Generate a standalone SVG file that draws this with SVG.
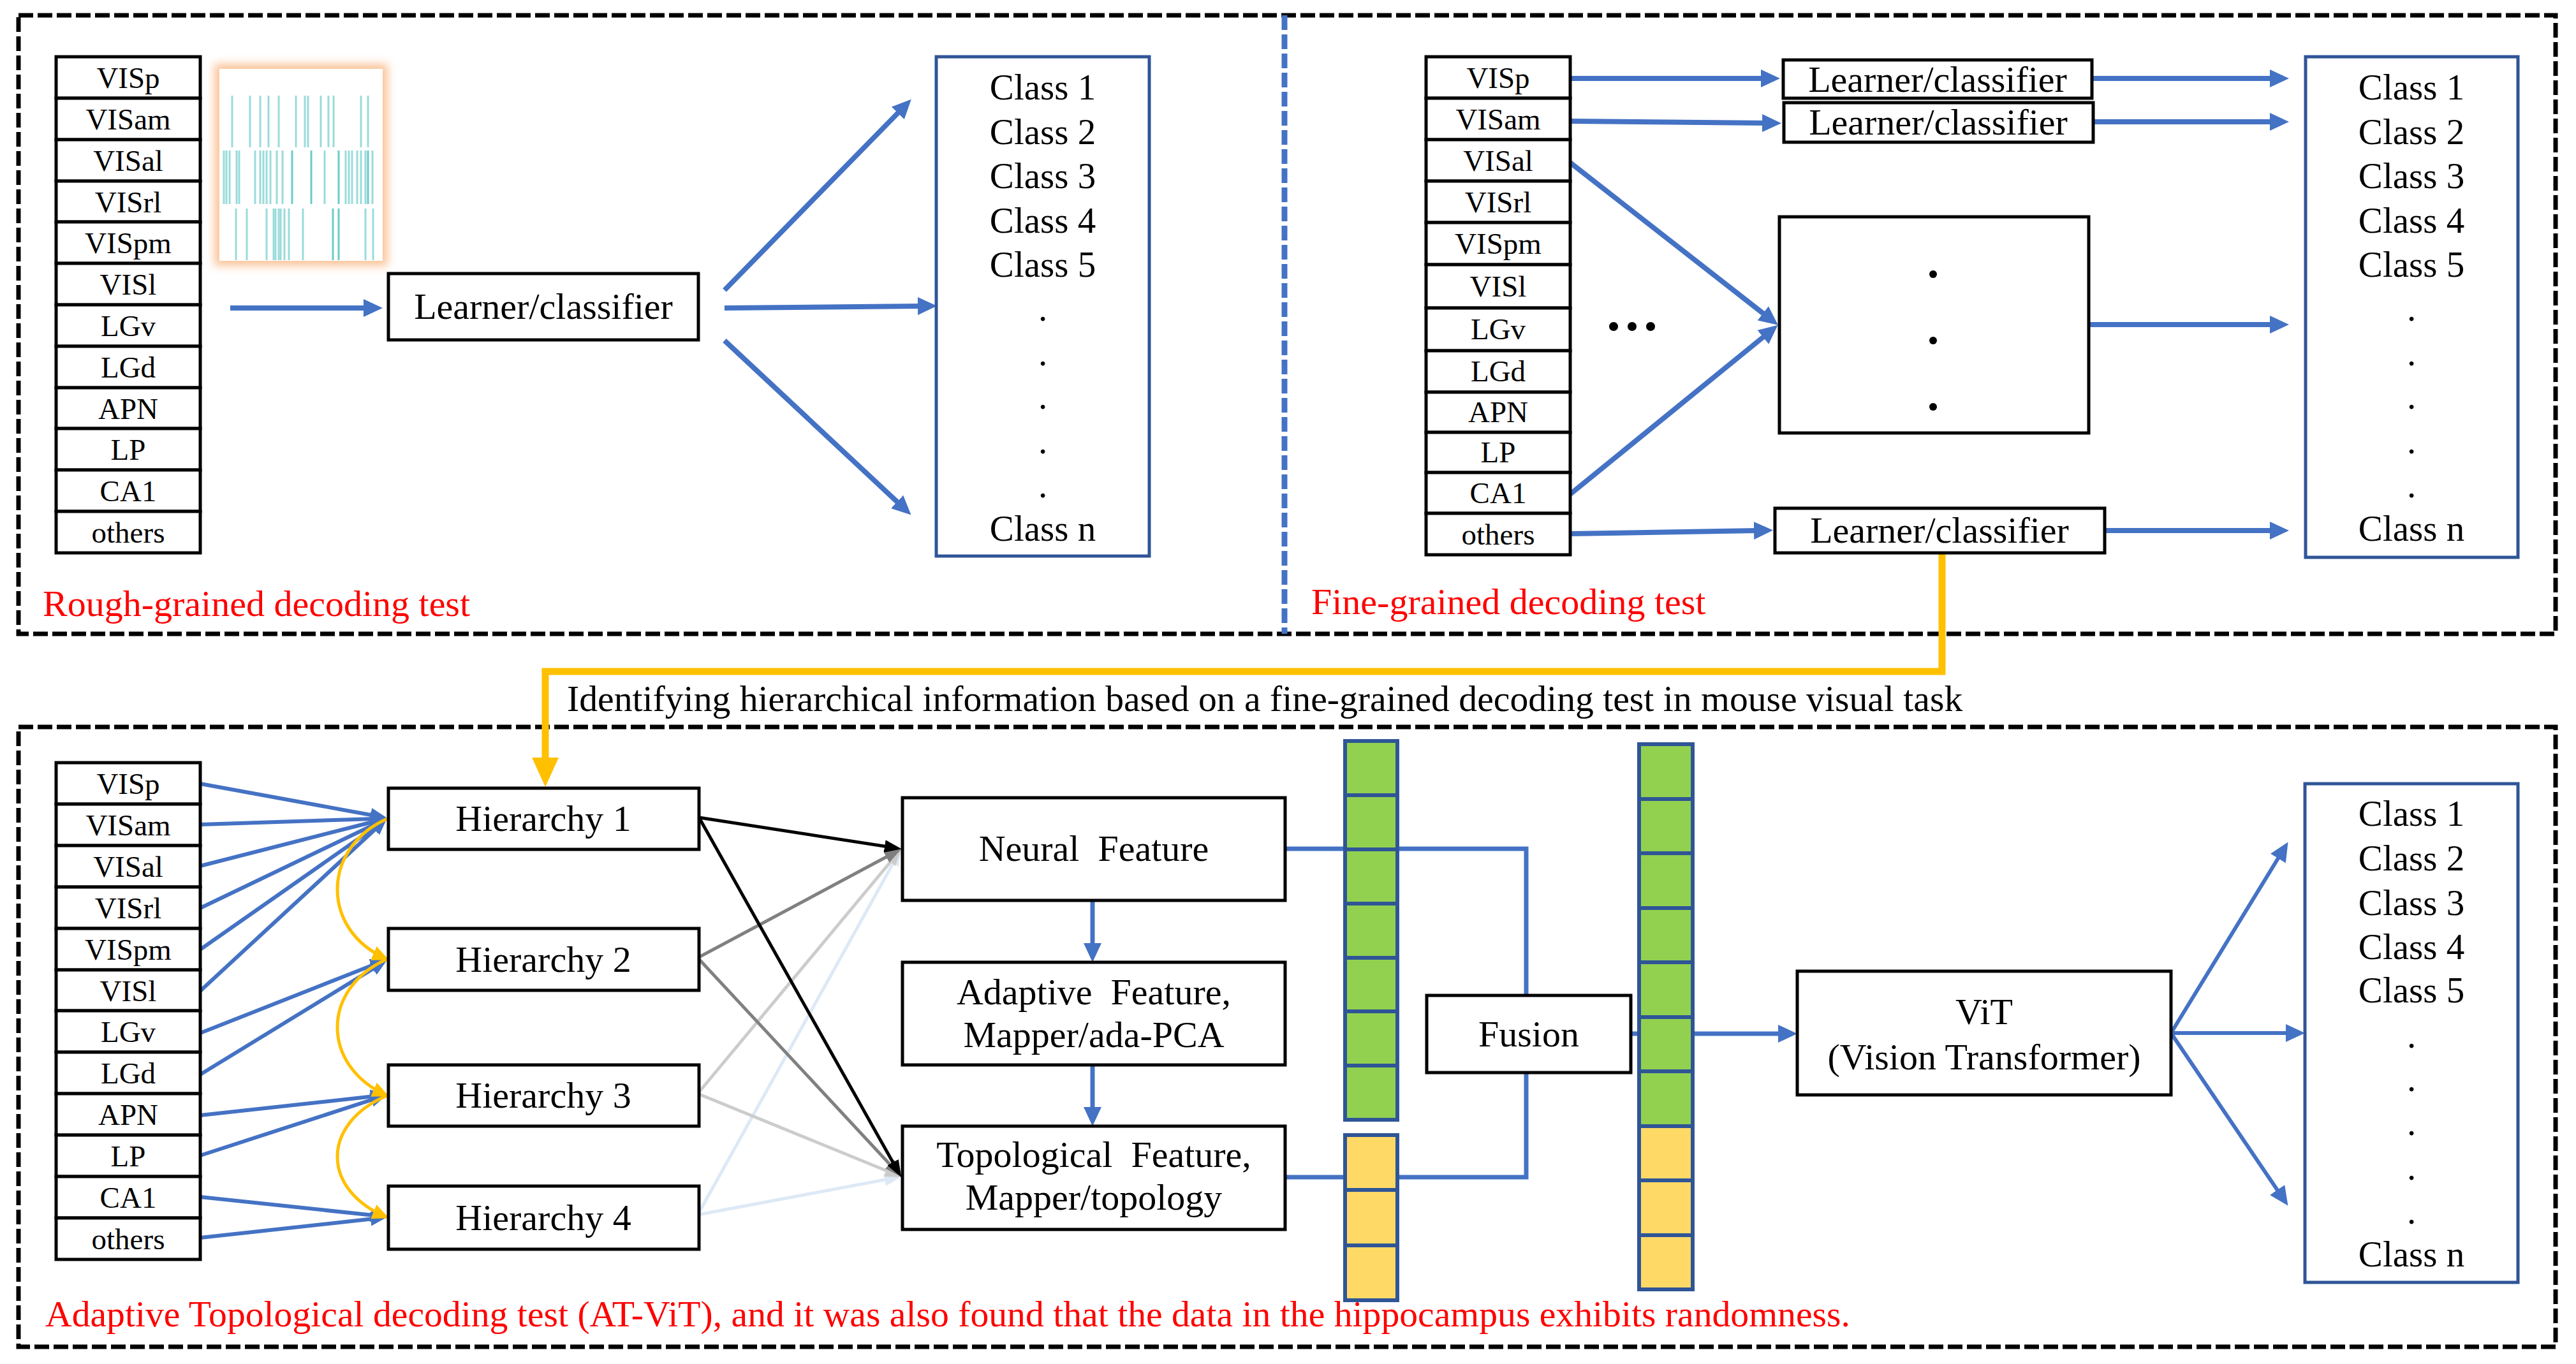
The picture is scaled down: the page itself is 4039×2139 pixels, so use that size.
<svg xmlns="http://www.w3.org/2000/svg" width="4039" height="2139" viewBox="0 0 4039 2139">
<style>
text{font-family:"Liberation Serif","Times New Roman",serif;fill:#000}
.lb{font-size:47px;text-anchor:middle}
.m{font-size:58px;text-anchor:middle}
.cl{font-size:57px;text-anchor:middle}
.red{font-size:58px;fill:#FF0000}
.box{fill:#fff;stroke:#000;stroke-width:5}
.cbox{fill:#fff;stroke:#2F5597;stroke-width:5}
.g{fill:#92D050;stroke:#2F5597;stroke-width:6}
.y{fill:#FFD966;stroke:#2F5597;stroke-width:6}
.ba{stroke:#4472C4;stroke-width:8;fill:none;marker-end:url(#ab)}
.bs{stroke:#4472C4;stroke-width:6;fill:none;marker-end:url(#abs)}
.bl{stroke:#4472C4;stroke-width:7;fill:none}
.dash{fill:none;stroke:#000;stroke-width:7;stroke-dasharray:23 7}
.rl{stroke:#9ADBDB;stroke-width:3}
.rd{stroke:#6CCACA;stroke-width:3}
</style>
<defs>
<marker id="ab" markerUnits="userSpaceOnUse" markerWidth="30" markerHeight="28" refX="6" refY="14" orient="auto"><path d="M0,0 L30,14 L0,28 z" fill="#4472C4"/></marker>
<marker id="abs" markerUnits="userSpaceOnUse" markerWidth="26" markerHeight="22" refX="6" refY="11" orient="auto"><path d="M0,0 L26,11 L0,22 z" fill="#4472C4"/></marker>
<marker id="ak" markerUnits="userSpaceOnUse" markerWidth="27" markerHeight="20" refX="6" refY="10" orient="auto"><path d="M0,0 L27,10 L0,20 z" fill="#000"/></marker>
<marker id="ag" markerUnits="userSpaceOnUse" markerWidth="27" markerHeight="20" refX="6" refY="10" orient="auto"><path d="M0,0 L27,10 L0,20 z" fill="#808080"/></marker>
<marker id="al" markerUnits="userSpaceOnUse" markerWidth="27" markerHeight="20" refX="6" refY="10" orient="auto"><path d="M0,0 L27,10 L0,20 z" fill="#CCCCCC"/></marker>
<marker id="ae" markerUnits="userSpaceOnUse" markerWidth="27" markerHeight="20" refX="6" refY="10" orient="auto"><path d="M0,0 L27,10 L0,20 z" fill="#DDE9F5"/></marker>
<marker id="ay" markerUnits="userSpaceOnUse" markerWidth="46" markerHeight="42" refX="11" refY="21" orient="auto"><path d="M0,0 L46,21 L0,42 z" fill="#FFC000"/></marker>
<marker id="ays" markerUnits="userSpaceOnUse" markerWidth="26" markerHeight="24" refX="23" refY="12" orient="auto"><path d="M0,0 L26,12 L0,24 z" fill="#FFC000"/></marker>
<filter id="glow" x="-20%" y="-20%" width="140%" height="140%"><feGaussianBlur stdDeviation="7"/></filter>
</defs>
<rect width="4039" height="2139" fill="#fff"/>

<!-- frames -->
<rect class="dash" x="29" y="24" width="3978" height="970"/>
<rect class="dash" x="29" y="1140" width="3978" height="972"/>
<line x1="2014" y1="24" x2="2014" y2="994" stroke="#4472C4" stroke-width="9" stroke-dasharray="23 7"/>
<text class="red" x="67" y="966">Rough-grained decoding test</text>
<text class="red" x="2056" y="963">Fine-grained decoding test</text>
<text class="red" x="71" y="2080" style="font-size:57.7px">Adaptive Topological decoding test (AT-ViT), and it was also found that the data in the hippocampus exhibits randomness.</text>
<text x="889" y="1115" style="font-size:57.7px">Identifying hierarchical information based on a fine-grained decoding test in mouse visual task</text>

<!-- raster picture -->
<g id="raster">
<rect x="336" y="100" width="272" height="317" fill="#FBC49A" filter="url(#glow)"/>
<rect x="344" y="108" width="256" height="301" fill="#fff"/>
<g class="rl">
<line x1="364" y1="150" x2="364" y2="231"/><line x1="392" y1="150" x2="392" y2="231"/><line x1="408" y1="150" x2="408" y2="231"/><line x1="421" y1="150" x2="421" y2="231"/><line x1="437" y1="150" x2="437" y2="231"/><line x1="464" y1="150" x2="464" y2="231"/><line x1="478" y1="150" x2="478" y2="231"/><line x1="483" y1="150" x2="483" y2="231"/><line x1="503" y1="150" x2="503" y2="231"/><line x1="515" y1="150" x2="515" y2="231"/><line x1="523" y1="150" x2="523" y2="231"/><line x1="566" y1="150" x2="566" y2="231"/><line x1="577" y1="150" x2="577" y2="231"/>
<line x1="351" y1="236" x2="351" y2="320"/><line x1="355" y1="236" x2="355" y2="320"/><line x1="360" y1="236" x2="360" y2="320"/><line x1="371" y1="236" x2="371" y2="320"/><line x1="375" y1="236" x2="375" y2="320"/><line x1="400" y1="236" x2="400" y2="320"/><line x1="408" y1="236" x2="408" y2="320"/><line x1="413" y1="236" x2="413" y2="320"/><line x1="418" y1="236" x2="418" y2="320"/><line x1="424" y1="236" x2="424" y2="320"/><line x1="434" y1="236" x2="434" y2="320"/><line x1="443" y1="236" x2="443" y2="320"/><line x1="509" y1="236" x2="509" y2="320"/><line x1="542" y1="236" x2="542" y2="320"/><line x1="547" y1="236" x2="547" y2="320"/><line x1="552" y1="236" x2="552" y2="320"/><line x1="560" y1="236" x2="560" y2="320"/><line x1="566" y1="236" x2="566" y2="320"/><line x1="573" y1="236" x2="573" y2="320"/><line x1="584" y1="236" x2="584" y2="320"/>
<line x1="370" y1="327" x2="370" y2="408"/><line x1="387" y1="327" x2="387" y2="408"/><line x1="418" y1="327" x2="418" y2="408"/><line x1="429" y1="327" x2="429" y2="408"/><line x1="432" y1="327" x2="432" y2="408"/><line x1="437" y1="327" x2="437" y2="408"/><line x1="440" y1="327" x2="440" y2="408"/><line x1="446" y1="327" x2="446" y2="408"/><line x1="453" y1="327" x2="453" y2="408"/><line x1="475" y1="327" x2="475" y2="408"/><line x1="573" y1="327" x2="573" y2="408"/><line x1="585" y1="327" x2="585" y2="408"/>
</g>
<g class="rd">
<line x1="458" y1="236" x2="458" y2="320"/><line x1="488" y1="236" x2="488" y2="320"/><line x1="531" y1="236" x2="531" y2="320"/><line x1="577" y1="236" x2="577" y2="320"/><line x1="522" y1="327" x2="522" y2="408"/><line x1="531" y1="327" x2="531" y2="408"/>
</g>
</g>

<!-- connectors -->
<g id="connectors">
<line class="ba" x1="361" y1="483" x2="576" y2="483"/>
<line class="ba" x1="1136" y1="455" x2="1412" y2="173"/>
<line class="ba" x1="1136" y1="483" x2="1445" y2="480"/>
<line class="ba" x1="1136" y1="534" x2="1411" y2="791"/>

<line class="ba" x1="2462" y1="123" x2="2767" y2="123"/>
<line class="ba" x1="2462" y1="190" x2="2769" y2="193"/>
<line class="ba" x1="2462" y1="255" x2="2769" y2="495"/>
<line class="ba" x1="2462" y1="775" x2="2769" y2="525"/>
<line class="ba" x1="2462" y1="837" x2="2756" y2="832"/>
<line class="ba" x1="3282" y1="123" x2="3565" y2="123"/>
<line class="ba" x1="3282" y1="191" x2="3565" y2="191"/>
<line class="ba" x1="3275" y1="509" x2="3565" y2="509"/>
<line class="ba" x1="3300" y1="832" x2="3565" y2="832"/>

<path d="M3045 867 V1053 H855 V1199" fill="none" stroke="#FFC000" stroke-width="11" marker-end="url(#ay)"/>

<line class="bs" x1="314" y1="1229" x2="587" y2="1279"/>
<line class="bs" x1="314" y1="1293" x2="587" y2="1284"/>
<line class="bs" x1="314" y1="1358" x2="588" y2="1288"/>
<line class="bs" x1="314" y1="1424" x2="589" y2="1292"/>
<line class="bs" x1="314" y1="1489" x2="591" y2="1295"/>
<line class="bs" x1="314" y1="1554" x2="592" y2="1297"/>
<line class="bs" x1="314" y1="1620" x2="588" y2="1512"/>
<line class="bs" x1="314" y1="1685" x2="590" y2="1516"/>
<line class="bs" x1="314" y1="1749" x2="587" y2="1719"/>
<line class="bs" x1="314" y1="1812" x2="588" y2="1723"/>
<line class="bs" x1="314" y1="1877" x2="587" y2="1906"/>
<line class="bs" x1="314" y1="1941" x2="587" y2="1911"/>

<path d="M607 1284 C503 1330 503 1460 607 1504" fill="none" stroke="#FFC000" stroke-width="5" marker-end="url(#ays)"/>
<path d="M607 1504 C503 1550 503 1672 607 1718" fill="none" stroke="#FFC000" stroke-width="5" marker-end="url(#ays)"/>
<path d="M607 1718 C503 1762 503 1866 607 1909" fill="none" stroke="#FFC000" stroke-width="5" marker-end="url(#ays)"/>

<line x1="1094" y1="1905" x2="1403" y2="1349" stroke="#DDE9F5" stroke-width="5" marker-end="url(#ae)"/>
<line x1="1094" y1="1905" x2="1393" y2="1849" stroke="#DDE9F5" stroke-width="5" marker-end="url(#ae)"/>
<line x1="1094" y1="1715" x2="1400" y2="1347" stroke="#CCCCCC" stroke-width="5" marker-end="url(#al)"/>
<line x1="1094" y1="1715" x2="1395" y2="1838" stroke="#CCCCCC" stroke-width="5" marker-end="url(#al)"/>
<line x1="1094" y1="1502" x2="1395" y2="1341" stroke="#808080" stroke-width="5" marker-end="url(#ag)"/>
<line x1="1094" y1="1502" x2="1399" y2="1830" stroke="#808080" stroke-width="5" marker-end="url(#ag)"/>
<line x1="1096" y1="1282" x2="1393" y2="1328" stroke="#000" stroke-width="5" marker-end="url(#ak)"/>
<line x1="1096" y1="1282" x2="1403" y2="1828" stroke="#000" stroke-width="5" marker-end="url(#ak)"/>

<line class="ba" style="stroke-width:7" x1="1713" y1="1412" x2="1713" y2="1485"/>
<line class="ba" style="stroke-width:7" x1="1713" y1="1670" x2="1713" y2="1742"/>

<path class="bl" d="M2015 1331 H2393 V1561"/>
<path class="bl" d="M2015 1846 H2393 V1682"/>
<line class="ba" style="stroke-width:7" x1="2557" y1="1621" x2="2794" y2="1621"/>

<line class="ba" style="stroke-width:6" x1="3404" y1="1620" x2="3575" y2="1341"/>
<line class="ba" style="stroke-width:6" x1="3404" y1="1620" x2="3590" y2="1620"/>
<line class="ba" style="stroke-width:6" x1="3404" y1="1620" x2="3574" y2="1871"/>
</g>

<!-- top-left region column -->
<g id="regions-rough">
<rect class="box" x="88" y="89" width="226" height="65"/><text class="lb" x="201" y="138">VISp</text>
<rect class="box" x="88" y="154" width="226" height="65"/><text class="lb" x="201" y="203">VISam</text>
<rect class="box" x="88" y="219" width="226" height="65"/><text class="lb" x="201" y="268">VISal</text>
<rect class="box" x="88" y="284" width="226" height="64"/><text class="lb" x="201" y="333">VISrl</text>
<rect class="box" x="88" y="348" width="226" height="65"/><text class="lb" x="201" y="397">VISpm</text>
<rect class="box" x="88" y="413" width="226" height="65"/><text class="lb" x="201" y="462">VISl</text>
<rect class="box" x="88" y="478" width="226" height="65"/><text class="lb" x="201" y="527">LGv</text>
<rect class="box" x="88" y="543" width="226" height="65"/><text class="lb" x="201" y="592">LGd</text>
<rect class="box" x="88" y="608" width="226" height="64"/><text class="lb" x="201" y="657">APN</text>
<rect class="box" x="88" y="672" width="226" height="65"/><text class="lb" x="201" y="721">LP</text>
<rect class="box" x="88" y="737" width="226" height="65"/><text class="lb" x="201" y="786">CA1</text>
<rect class="box" x="88" y="802" width="226" height="65"/><text class="lb" x="201" y="851">others</text>
</g>
<g id="learner-rough">
<rect class="box" x="609" y="429" width="486" height="104"/><text class="m" x="852" y="500">Learner/classifier</text>
</g>
<g id="classes-rough">
<rect class="cbox" x="1468" y="89" width="334" height="783"/>
<text class="cl" x="1635" y="156">Class 1</text><text class="cl" x="1635" y="226">Class 2</text><text class="cl" x="1635" y="295">Class 3</text><text class="cl" x="1635" y="365">Class 4</text><text class="cl" x="1635" y="434">Class 5</text>
<text class="cl" x="1635" y="503">.</text><text class="cl" x="1635" y="573">.</text><text class="cl" x="1635" y="641">.</text><text class="cl" x="1635" y="711">.</text><text class="cl" x="1635" y="780">.</text>
<text class="cl" x="1635" y="848">Class n</text>
</g>

<!-- top-right -->
<g id="regions-fine">
<rect class="box" x="2236" y="89" width="226" height="65"/><text class="lb" x="2349" y="138">VISp</text>
<rect class="box" x="2236" y="154" width="226" height="65"/><text class="lb" x="2349" y="203">VISam</text>
<rect class="box" x="2236" y="219" width="226" height="65"/><text class="lb" x="2349" y="268">VISal</text>
<rect class="box" x="2236" y="284" width="226" height="65"/><text class="lb" x="2349" y="333">VISrl</text>
<rect class="box" x="2236" y="349" width="226" height="66"/><text class="lb" x="2349" y="398">VISpm</text>
<rect class="box" x="2236" y="415" width="226" height="68"/><text class="lb" x="2349" y="465">VISl</text>
<rect class="box" x="2236" y="483" width="226" height="67"/><text class="lb" x="2349" y="532">LGv</text>
<rect class="box" x="2236" y="550" width="226" height="65"/><text class="lb" x="2349" y="598">LGd</text>
<rect class="box" x="2236" y="615" width="226" height="63"/><text class="lb" x="2349" y="662">APN</text>
<rect class="box" x="2236" y="678" width="226" height="63"/><text class="lb" x="2349" y="725">LP</text>
<rect class="box" x="2236" y="741" width="226" height="64"/><text class="lb" x="2349" y="789">CA1</text>
<rect class="box" x="2236" y="805" width="226" height="65"/><text class="lb" x="2349" y="854">others</text>
</g>
<g id="dots-fine">
<circle cx="2530" cy="512" r="7"/><circle cx="2559" cy="512" r="7"/><circle cx="2588" cy="512" r="7"/>
</g>
<g id="learner-fine-1"><rect class="box" x="2796" y="94" width="484" height="60"/><text class="m" x="3038" y="144">Learner/classifier</text></g>
<g id="learner-fine-2"><rect class="box" x="2797" y="161" width="485" height="62"/><text class="m" x="3039" y="211">Learner/classifier</text></g>
<g id="learner-fine-mid"><rect class="box" x="2790" y="340" width="485" height="339"/>
<circle cx="3031" cy="430" r="6"/><circle cx="3031" cy="534" r="6"/><circle cx="3031" cy="638" r="6"/></g>
<g id="learner-fine-3"><rect class="box" x="2783" y="797" width="517" height="70"/><text class="m" x="3041" y="851">Learner/classifier</text></g>
<g id="classes-fine">
<rect class="cbox" x="3615" y="89" width="333" height="785"/>
<text class="cl" x="3781" y="156">Class 1</text><text class="cl" x="3781" y="226">Class 2</text><text class="cl" x="3781" y="295">Class 3</text><text class="cl" x="3781" y="365">Class 4</text><text class="cl" x="3781" y="434">Class 5</text>
<text class="cl" x="3781" y="503">.</text><text class="cl" x="3781" y="573">.</text><text class="cl" x="3781" y="641">.</text><text class="cl" x="3781" y="711">.</text><text class="cl" x="3781" y="780">.</text>
<text class="cl" x="3781" y="848">Class n</text>
</g>

<!-- bottom -->
<g id="regions-at">
<rect class="box" x="88" y="1196" width="226" height="65"/><text class="lb" x="201" y="1245">VISp</text>
<rect class="box" x="88" y="1261" width="226" height="65"/><text class="lb" x="201" y="1310">VISam</text>
<rect class="box" x="88" y="1326" width="226" height="65"/><text class="lb" x="201" y="1375">VISal</text>
<rect class="box" x="88" y="1391" width="226" height="65"/><text class="lb" x="201" y="1440">VISrl</text>
<rect class="box" x="88" y="1456" width="226" height="65"/><text class="lb" x="201" y="1505">VISpm</text>
<rect class="box" x="88" y="1521" width="226" height="64"/><text class="lb" x="201" y="1570">VISl</text>
<rect class="box" x="88" y="1585" width="226" height="65"/><text class="lb" x="201" y="1634">LGv</text>
<rect class="box" x="88" y="1650" width="226" height="65"/><text class="lb" x="201" y="1699">LGd</text>
<rect class="box" x="88" y="1715" width="226" height="65"/><text class="lb" x="201" y="1764">APN</text>
<rect class="box" x="88" y="1780" width="226" height="65"/><text class="lb" x="201" y="1829">LP</text>
<rect class="box" x="88" y="1845" width="226" height="65"/><text class="lb" x="201" y="1894">CA1</text>
<rect class="box" x="88" y="1910" width="226" height="65"/><text class="lb" x="201" y="1959">others</text>
</g>
<g id="hierarchy-1"><rect class="box" x="609" y="1236" width="487" height="96"/><text class="m" x="852" y="1303">Hierarchy 1</text></g>
<g id="hierarchy-2"><rect class="box" x="609" y="1456" width="487" height="97"/><text class="m" x="852" y="1524">Hierarchy 2</text></g>
<g id="hierarchy-3"><rect class="box" x="609" y="1670" width="487" height="96"/><text class="m" x="852" y="1737">Hierarchy 3</text></g>
<g id="hierarchy-4"><rect class="box" x="609" y="1860" width="487" height="99"/><text class="m" x="852" y="1929">Hierarchy 4</text></g>

<g id="neural-feature"><rect class="box" x="1415" y="1251" width="600" height="161"/><text class="m" x="1715" y="1350" xml:space="preserve">Neural  Feature</text></g>
<g id="adaptive-feature"><rect class="box" x="1415" y="1509" width="600" height="161"/><text class="m" x="1715" y="1575" xml:space="preserve">Adaptive  Feature,</text><text class="m" x="1715" y="1642">Mapper/ada-PCA</text></g>
<g id="topological-feature"><rect class="box" x="1415" y="1766" width="600" height="162"/><text class="m" x="1715" y="1830" xml:space="preserve">Topological  Feature,</text><text class="m" x="1715" y="1897">Mapper/topology</text></g>

<g id="vector-neural">
<rect class="g" x="2109" y="1162" width="82" height="85"/><rect class="g" x="2109" y="1247" width="82" height="85"/><rect class="g" x="2109" y="1332" width="82" height="85"/><rect class="g" x="2109" y="1417" width="82" height="85"/><rect class="g" x="2109" y="1502" width="82" height="84"/><rect class="g" x="2109" y="1586" width="82" height="85"/><rect class="g" x="2109" y="1671" width="82" height="85"/>
</g>
<g id="vector-topo">
<rect class="y" x="2109" y="1780" width="82" height="86"/><rect class="y" x="2109" y="1866" width="82" height="87"/><rect class="y" x="2109" y="1953" width="82" height="86"/>
</g>
<g id="fusion"><rect class="box" x="2237" y="1561" width="320" height="121"/><text class="m" x="2397" y="1641">Fusion</text></g>
<g id="vector-fused">
<rect class="g" x="2570" y="1167" width="84" height="86"/><rect class="g" x="2570" y="1253" width="84" height="85"/><rect class="g" x="2570" y="1338" width="84" height="86"/><rect class="g" x="2570" y="1424" width="84" height="85"/><rect class="g" x="2570" y="1509" width="84" height="86"/><rect class="g" x="2570" y="1595" width="84" height="85"/><rect class="g" x="2570" y="1680" width="84" height="86"/>
<rect class="y" x="2570" y="1766" width="84" height="85"/><rect class="y" x="2570" y="1851" width="84" height="86"/><rect class="y" x="2570" y="1937" width="84" height="85"/>
</g>
<g id="vit"><rect class="box" x="2818" y="1523" width="586" height="194"/><text class="m" x="3111" y="1606">ViT</text><text class="m" x="3111" y="1677">(Vision Transformer)</text></g>
<g id="classes-at">
<rect class="cbox" x="3614" y="1229" width="334" height="782"/>
<text class="cl" x="3781" y="1295">Class 1</text><text class="cl" x="3781" y="1365">Class 2</text><text class="cl" x="3781" y="1435">Class 3</text><text class="cl" x="3781" y="1504">Class 4</text><text class="cl" x="3781" y="1572">Class 5</text>
<text class="cl" x="3781" y="1643">.</text><text class="cl" x="3781" y="1711">.</text><text class="cl" x="3781" y="1780">.</text><text class="cl" x="3781" y="1850">.</text><text class="cl" x="3781" y="1919">.</text>
<text class="cl" x="3781" y="1986">Class n</text>
</g>
</svg>
